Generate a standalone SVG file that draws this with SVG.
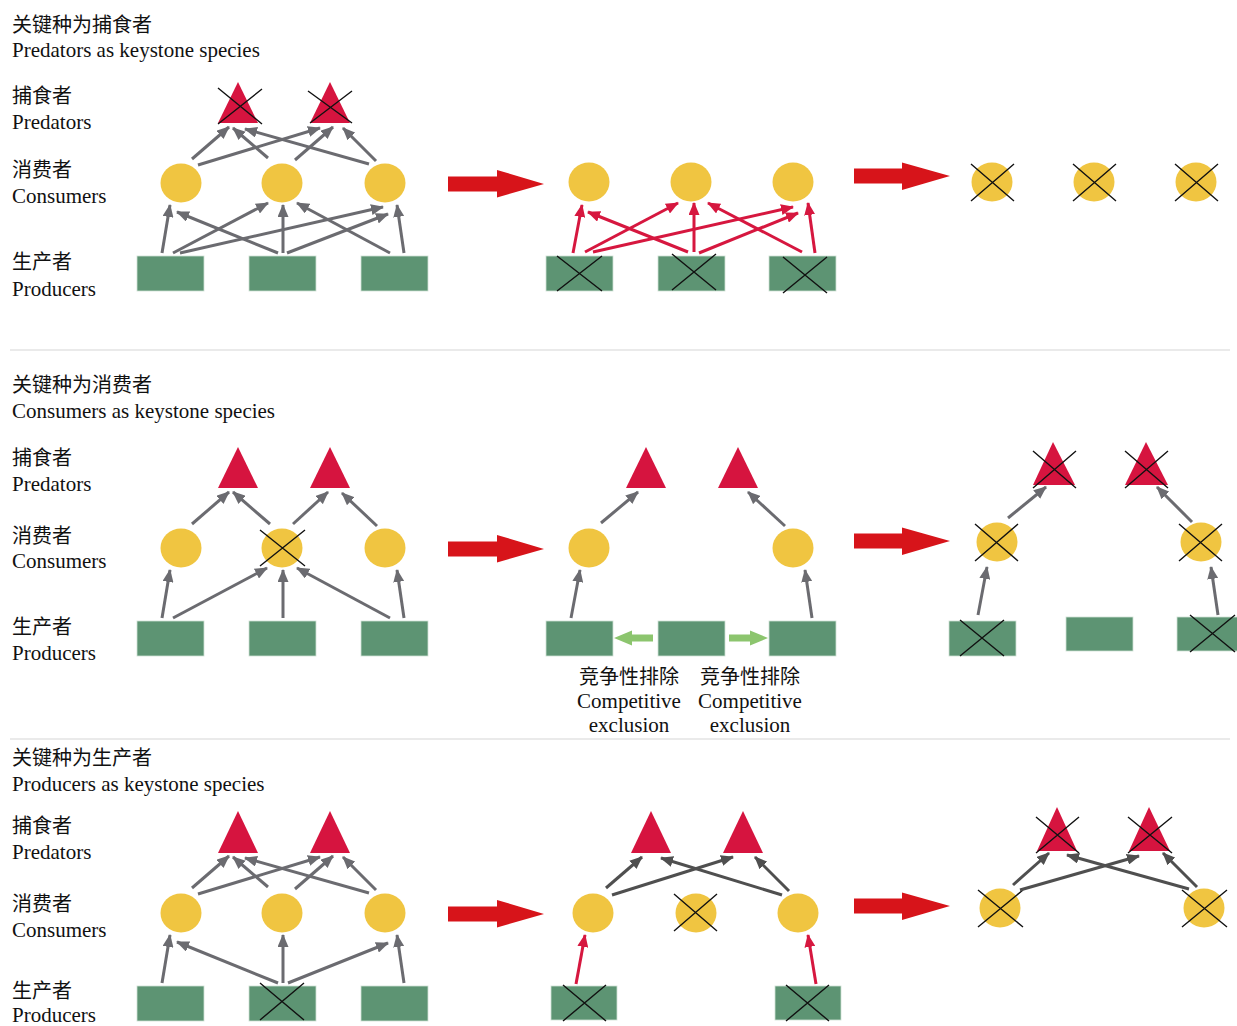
<svg xmlns="http://www.w3.org/2000/svg" width="1237" height="1026" viewBox="0 0 1237 1026">
<defs>
<style>
text{font-family:"Liberation Serif","Noto Sans CJK SC",serif;font-size:21px;fill:#111}
.zh{font-family:"Noto Sans CJK SC","Liberation Serif",sans-serif;font-size:20px}
.mid{text-anchor:middle}
.tri{fill:#d6143f}
.cir{fill:#f0c541}
.rec{fill:#5d9473;stroke:#cfe0d4;stroke-width:0.8}
.x{stroke:#111;stroke-width:1.4;fill:none}
.g{stroke:#6b6b70;stroke-width:3;fill:none;marker-end:url(#mg)}
.r{stroke:#d6173f;stroke-width:3;fill:none;marker-end:url(#mr)}
.d{stroke:#4f4f4f;stroke-width:3;fill:none;marker-end:url(#md)}
.big{fill:#d7141a}
.gr{fill:#8cc56e}
.sep{stroke:#d6d6d6;stroke-width:1.2}
</style>
<marker id="mg" viewBox="0 0 13 11" markerWidth="13" markerHeight="11" refX="12" refY="5.5" orient="auto" markerUnits="userSpaceOnUse"><path d="M0,0 L13,5.5 L0,11 z" fill="#6b6b70"/></marker>
<marker id="mr" viewBox="0 0 13 11" markerWidth="13" markerHeight="11" refX="12" refY="5.5" orient="auto" markerUnits="userSpaceOnUse"><path d="M0,0 L13,5.5 L0,11 z" fill="#d6173f"/></marker>
<marker id="md" viewBox="0 0 13 11" markerWidth="13" markerHeight="11" refX="12" refY="5.5" orient="auto" markerUnits="userSpaceOnUse"><path d="M0,0 L13,5.5 L0,11 z" fill="#4f4f4f"/></marker>
</defs>
<rect width="1237" height="1026" fill="#fff"/>

<g id="labels">
<text class="zh" x="12" y="32">关键种为捕食者</text>
<text x="12" y="57">Predators as keystone species</text>
<text class="zh" x="12" y="103">捕食者</text>
<text x="12" y="129">Predators</text>
<text class="zh" x="12" y="177">消费者</text>
<text x="12" y="203">Consumers</text>
<text class="zh" x="12" y="269">生产者</text>
<text x="12" y="296">Producers</text>

<text class="zh" x="12" y="392">关键种为消费者</text>
<text x="12" y="418">Consumers as keystone species</text>
<text class="zh" x="12" y="465">捕食者</text>
<text x="12" y="491">Predators</text>
<text class="zh" x="12" y="543">消费者</text>
<text x="12" y="568">Consumers</text>
<text class="zh" x="12" y="634">生产者</text>
<text x="12" y="660">Producers</text>

<text class="zh" x="12" y="765">关键种为生产者</text>
<text x="12" y="791">Producers as keystone species</text>
<text class="zh" x="12" y="833">捕食者</text>
<text x="12" y="859">Predators</text>
<text class="zh" x="12" y="911">消费者</text>
<text x="12" y="937">Consumers</text>
<text class="zh" x="12" y="998">生产者</text>
<text x="12" y="1022">Producers</text>

<text class="zh mid" x="629" y="684">竞争性排除</text>
<text class="mid" x="629" y="708">Competitive</text>
<text class="mid" x="629" y="732">exclusion</text>
<text class="zh mid" x="750" y="684">竞争性排除</text>
<text class="mid" x="750" y="708">Competitive</text>
<text class="mid" x="750" y="732">exclusion</text>
</g>

<g id="separators">
<line class="sep" x1="10" y1="350" x2="1230" y2="350"/>
<line class="sep" x1="10" y1="739" x2="1230" y2="739"/>
</g>

<g id="transition-arrows">
<polygon class="big" points="448,176.5 497,176.5 497,170 544,184 497,197.5 497,191.5 448,191.5"/>
<polygon class="big" points="854,168.5 902,168.5 902,162.5 950,176 902,190 902,183.5 854,183.5"/>
<polygon class="big" points="448,541.5 497,541.5 497,535 544,549 497,562.5 497,556.5 448,556.5"/>
<polygon class="big" points="854,533.5 902,533.5 902,527.5 950,541 902,555 902,548.5 854,548.5"/>
<polygon class="big" points="448,906.5 497,906.5 497,900 544,914 497,927.5 497,921.5 448,921.5"/>
<polygon class="big" points="854,898.5 902,898.5 902,892.5 950,906 902,920 902,913.5 854,913.5"/>
</g>

<!-- Row 1, panel A -->
<g id="r1a-pred1"><polygon class="tri" points="238,82 218,123 258,123"/><path class="x" d="M218,88 L262,124 M262,89 L218,124"/></g>
<g id="r1a-pred2"><polygon class="tri" points="330,82 310,123 350,123"/><path class="x" d="M308,91 L352,123 M352,91 L310,123"/></g>
<g id="r1a-con1"><ellipse class="cir" cx="181" cy="183" rx="20.5" ry="19.5"/></g>
<g id="r1a-con2"><ellipse class="cir" cx="282" cy="183" rx="20.5" ry="19.5"/></g>
<g id="r1a-con3"><ellipse class="cir" cx="385" cy="183" rx="20.5" ry="19.5"/></g>
<g id="r1a-pro1"><rect class="rec" x="137" y="256" width="67" height="35"/></g>
<g id="r1a-pro2"><rect class="rec" x="249" y="256" width="67" height="35"/></g>
<g id="r1a-pro3"><rect class="rec" x="361" y="256" width="67" height="35"/></g>

<!-- Row 1, panel B -->
<g id="r1b-con1"><ellipse class="cir" cx="589" cy="182" rx="20.5" ry="19.5"/></g>
<g id="r1b-con2"><ellipse class="cir" cx="691" cy="182" rx="20.5" ry="19.5"/></g>
<g id="r1b-con3"><ellipse class="cir" cx="793" cy="182" rx="20.5" ry="19.5"/></g>
<g id="r1b-pro1"><rect class="rec" x="546" y="256" width="67" height="35"/><path class="x" d="M557,256 L602,291 M602,256 L557,291"/></g>
<g id="r1b-pro2"><rect class="rec" x="658" y="256" width="67" height="35"/><path class="x" d="M672,254 L716,290 M716,254 L672,290"/></g>
<g id="r1b-pro3"><rect class="rec" x="769" y="256" width="67" height="35"/><path class="x" d="M783,257 L827,293 M827,257 L783,293"/></g>

<!-- Row 1, panel C -->
<g id="r1c-con1"><ellipse class="cir" cx="992" cy="182" rx="20.5" ry="19.5"/><path class="x" d="M971,164 L1014,201 M1014,164 L971,201"/></g>
<g id="r1c-con2"><ellipse class="cir" cx="1094" cy="182" rx="20.5" ry="19.5"/><path class="x" d="M1073,164 L1116,201 M1116,164 L1073,201"/></g>
<g id="r1c-con3"><ellipse class="cir" cx="1196" cy="182" rx="20.5" ry="19.5"/><path class="x" d="M1175,164 L1218,201 M1218,164 L1175,201"/></g>

<!-- Row 2, panel A -->
<g id="r2a-pred1"><polygon class="tri" points="238,447 218,488 258,488"/></g>
<g id="r2a-pred2"><polygon class="tri" points="330,447 310,488 350,488"/></g>
<g id="r2a-con1"><ellipse class="cir" cx="181" cy="548" rx="20.5" ry="19.5"/></g>
<g id="r2a-con2"><ellipse class="cir" cx="282" cy="548" rx="20.5" ry="19.5"/><path class="x" d="M260,530 L305,566 M305,530 L260,566"/></g>
<g id="r2a-con3"><ellipse class="cir" cx="385" cy="548" rx="20.5" ry="19.5"/></g>
<g id="r2a-pro1"><rect class="rec" x="137" y="621" width="67" height="35"/></g>
<g id="r2a-pro2"><rect class="rec" x="249" y="621" width="67" height="35"/></g>
<g id="r2a-pro3"><rect class="rec" x="361" y="621" width="67" height="35"/></g>

<!-- Row 2, panel B -->
<g id="r2b-pred1"><polygon class="tri" points="646,447 626,488 666,488"/></g>
<g id="r2b-pred2"><polygon class="tri" points="738,447 718,488 758,488"/></g>
<g id="r2b-con1"><ellipse class="cir" cx="589" cy="548" rx="20.5" ry="19.5"/></g>
<g id="r2b-con3"><ellipse class="cir" cx="793" cy="548" rx="20.5" ry="19.5"/></g>
<g id="r2b-pro1"><rect class="rec" x="546" y="621" width="67" height="35"/></g>
<g id="r2b-pro2"><rect class="rec" x="658" y="621" width="67" height="35"/></g>
<g id="r2b-pro3"><rect class="rec" x="769" y="621" width="67" height="35"/></g>

<!-- Row 2, panel C -->
<g id="r2c-pred1"><polygon class="tri" points="1053,442 1033,485 1075,485"/><path class="x" d="M1033,451 L1076,488 M1076,451 L1033,488"/></g>
<g id="r2c-pred2"><polygon class="tri" points="1146,442 1125,485 1168,485"/><path class="x" d="M1125,451 L1168,488 M1168,451 L1125,488"/></g>
<g id="r2c-con1"><ellipse class="cir" cx="997" cy="542" rx="20.5" ry="19.5"/><path class="x" d="M975,524 L1018,561 M1018,524 L975,561"/></g>
<g id="r2c-con3"><ellipse class="cir" cx="1201" cy="542" rx="20.5" ry="19.5"/><path class="x" d="M1179,524 L1222,561 M1222,524 L1179,561"/></g>
<g id="r2c-pro1"><rect class="rec" x="949" y="621" width="67" height="35"/><path class="x" d="M960,620 L1004,656 M1004,620 L960,656"/></g>
<g id="r2c-pro2"><rect class="rec" x="1066" y="617" width="67" height="34"/></g>
<g id="r2c-pro3"><rect class="rec" x="1177" y="617" width="67" height="34"/><path class="x" d="M1190,615 L1235,652 M1235,615 L1190,652"/></g>

<!-- Row 3, panel A -->
<g id="r3a-pred1"><polygon class="tri" points="238,811 218,853 258,853"/></g>
<g id="r3a-pred2"><polygon class="tri" points="330,811 310,853 350,853"/></g>
<g id="r3a-con1"><ellipse class="cir" cx="181" cy="913" rx="20.5" ry="19.5"/></g>
<g id="r3a-con2"><ellipse class="cir" cx="282" cy="913" rx="20.5" ry="19.5"/></g>
<g id="r3a-con3"><ellipse class="cir" cx="385" cy="913" rx="20.5" ry="19.5"/></g>
<g id="r3a-pro1"><rect class="rec" x="137" y="986" width="67" height="35"/></g>
<g id="r3a-pro2"><rect class="rec" x="249" y="986" width="67" height="35"/><path class="x" d="M260,983 L304,1020 M304,983 L260,1020"/></g>
<g id="r3a-pro3"><rect class="rec" x="361" y="986" width="67" height="35"/></g>

<!-- Row 3, panel B -->
<g id="r3b-pred1"><polygon class="tri" points="651,811 631,853 671,853"/></g>
<g id="r3b-pred2"><polygon class="tri" points="743,811 723,853 763,853"/></g>
<g id="r3b-con1"><ellipse class="cir" cx="593" cy="913" rx="20.5" ry="19.5"/></g>
<g id="r3b-con2"><ellipse class="cir" cx="696" cy="913" rx="20.5" ry="19.5"/><path class="x" d="M674,894 L717,931 M717,894 L674,931"/></g>
<g id="r3b-con3"><ellipse class="cir" cx="798" cy="913" rx="20.5" ry="19.5"/></g>
<g id="r3b-pro1"><rect class="rec" x="551" y="986" width="66" height="34"/><path class="x" d="M563,985 L606,1021 M606,985 L563,1021"/></g>
<g id="r3b-pro3"><rect class="rec" x="775" y="986" width="66" height="34"/><path class="x" d="M786,985 L829,1021 M829,985 L786,1021"/></g>

<!-- Row 3, panel C -->
<g id="r3c-pred1"><polygon class="tri" points="1057,807 1037,851 1077,851"/><path class="x" d="M1036,817 L1079,853 M1079,817 L1036,853"/></g>
<g id="r3c-pred2"><polygon class="tri" points="1149,807 1129,851 1170,851"/><path class="x" d="M1128,817 L1172,853 M1172,817 L1128,853"/></g>
<g id="r3c-con1"><ellipse class="cir" cx="1000" cy="908" rx="20.5" ry="19.5"/><path class="x" d="M978,890 L1023,927 M1023,890 L978,927"/></g>
<g id="r3c-con3"><ellipse class="cir" cx="1204" cy="908" rx="20.5" ry="19.5"/><path class="x" d="M1182,890 L1227,927 M1227,890 L1182,927"/></g>

<g id="connectors">
<line class="g" x1="162" y1="253" x2="170" y2="205"/>
<line class="g" x1="278" y1="253" x2="177" y2="212"/>
<line class="g" x1="173" y1="253" x2="268" y2="203"/>
<line class="g" x1="180" y1="253" x2="383" y2="207"/>
<line class="g" x1="283" y1="253" x2="283" y2="205"/>
<line class="g" x1="287" y1="253" x2="388" y2="214"/>
<line class="g" x1="390" y1="253" x2="297" y2="203"/>
<line class="g" x1="404" y1="253" x2="397" y2="205"/>
<line class="g" x1="192" y1="159" x2="229" y2="127"/>
<line class="g" x1="198" y1="165" x2="320" y2="128"/>
<line class="g" x1="268" y1="158" x2="233" y2="128"/>
<line class="g" x1="295" y1="160" x2="333" y2="127"/>
<line class="g" x1="369" y1="164" x2="245" y2="129"/>
<line class="g" x1="376" y1="161" x2="343" y2="128"/>
<line class="r" x1="573" y1="253" x2="582" y2="205"/>
<line class="r" x1="688" y1="252" x2="588" y2="212"/>
<line class="r" x1="585" y1="252" x2="678" y2="203"/>
<line class="r" x1="593" y1="252" x2="793" y2="207"/>
<line class="r" x1="694" y1="252" x2="694" y2="203"/>
<line class="r" x1="699" y1="253" x2="798" y2="213"/>
<line class="r" x1="802" y1="252" x2="708" y2="203"/>
<line class="r" x1="815" y1="253" x2="808" y2="203"/>
<line class="g" x1="192" y1="524" x2="229" y2="492"/>
<line class="g" x1="270" y1="524" x2="233" y2="492"/>
<line class="g" x1="293" y1="524" x2="328" y2="492"/>
<line class="g" x1="377" y1="526" x2="342" y2="493"/>
<line class="g" x1="162" y1="618" x2="170" y2="570"/>
<line class="g" x1="173" y1="618" x2="267" y2="568"/>
<line class="g" x1="283" y1="618" x2="283" y2="570"/>
<line class="g" x1="390" y1="618" x2="297" y2="568"/>
<line class="g" x1="404" y1="618" x2="397" y2="570"/>
<line class="g" x1="601" y1="523" x2="638" y2="492"/>
<line class="g" x1="785" y1="526" x2="748" y2="492"/>
<line class="g" x1="571" y1="618" x2="580" y2="570"/>
<line class="g" x1="812" y1="618" x2="805" y2="570"/>
<polygon class="gr" points="614,638 632,630.5 632,634.5 653,634.5 653,641.5 632,641.5 632,645.5"/>
<polygon class="gr" points="768,638 750,630.5 750,634.5 729,634.5 729,641.5 750,641.5 750,645.5"/>
<line class="g" x1="1008" y1="518" x2="1046" y2="487"/>
<line class="g" x1="1192" y1="522" x2="1157" y2="487"/>
<line class="g" x1="978" y1="615" x2="987" y2="567"/>
<line class="g" x1="1218" y1="615" x2="1211" y2="567"/>
<line class="g" x1="192" y1="888" x2="229" y2="856"/>
<line class="g" x1="198" y1="894" x2="320" y2="857"/>
<line class="g" x1="268" y1="887" x2="233" y2="857"/>
<line class="g" x1="295" y1="889" x2="333" y2="856"/>
<line class="g" x1="369" y1="893" x2="245" y2="858"/>
<line class="g" x1="376" y1="890" x2="343" y2="857"/>
<line class="g" x1="162" y1="983" x2="170" y2="935"/>
<line class="g" x1="278" y1="983" x2="177" y2="942"/>
<line class="g" x1="283" y1="983" x2="283" y2="935"/>
<line class="g" x1="288" y1="983" x2="388" y2="943"/>
<line class="g" x1="404" y1="983" x2="397" y2="935"/>
<line class="d" x1="606" y1="888" x2="642" y2="857"/>
<line class="d" x1="612" y1="895" x2="733" y2="857"/>
<line class="d" x1="782" y1="895" x2="661" y2="858"/>
<line class="d" x1="789" y1="891" x2="755" y2="857"/>
<line class="r" x1="576" y1="984" x2="585" y2="935"/>
<line class="r" x1="816" y1="984" x2="808" y2="935"/>
<line class="d" x1="1013" y1="885" x2="1049" y2="853"/>
<line class="d" x1="1020" y1="890" x2="1139" y2="856"/>
<line class="d" x1="1189" y1="889" x2="1067" y2="855"/>
<line class="d" x1="1197" y1="887" x2="1163" y2="853"/>
</g>
</svg>
